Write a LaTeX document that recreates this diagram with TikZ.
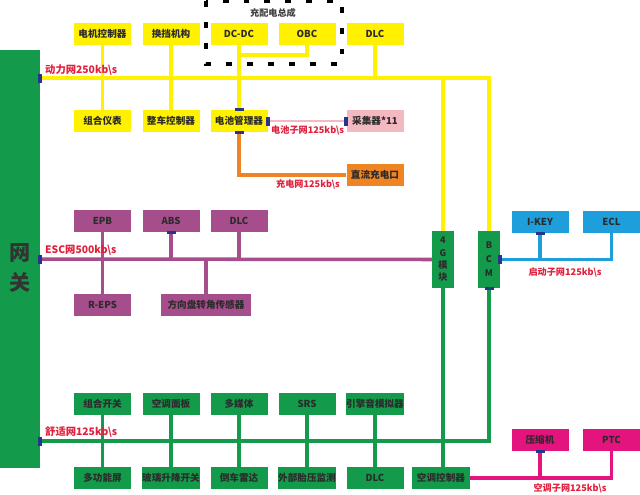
\documentclass[tikz,border=0pt]{standalone}
\usepackage{fontspec}
\setmainfont{Noto Sans CJK SC}
\definecolor{pyellow}{HTML}{FFF100}
\definecolor{escpurple}{HTML}{A64D8C}
\definecolor{gwgreen}{HTML}{139A4A}
\definecolor{keyblue}{HTML}{1E9FDB}
\definecolor{acmagenta}{HTML}{E4147F}
\definecolor{chgorange}{HTML}{EF8422}
\definecolor{cellpink}{HTML}{F4B8C1}
\definecolor{netred}{HTML}{E0203C}
\definecolor{tabnavy}{HTML}{27348B}
\definecolor{boxtext}{HTML}{2B2B2B}
\tikzset{
  box/.style={minimum width=1.71cm, minimum height=0.66cm, inner sep=0pt, text=boxtext,
    font=\bfseries\fontsize{8.2}{9}\selectfont},
  ybox/.style={box, fill=pyellow},
  pbox/.style={box, fill=escpurple},
  gbox/.style={box, fill=gwgreen},
  bbox/.style={box, fill=keyblue},
  mbox/.style={box, fill=acmagenta},
  netlabel/.style={text=netred, font=\bfseries\fontsize{8.8}{9}\selectfont, inner sep=0pt},
  sublabel/.style={netlabel, font=\bfseries\fontsize{7.8}{8}\selectfont},
  vtab/.style={fill=tabnavy, minimum width=0.12cm, minimum height=0.27cm, inner sep=0pt},
  htab/.style={fill=tabnavy, minimum width=0.27cm, minimum height=0.1cm, inner sep=0pt},
  line/.style={line width=3pt},
}
\begin{document}
\begin{tikzpicture}[x=0.03cm, y=-0.03cm]
	\useasboundingbox (0,0) rectangle (640,494);
	% gateway
	\node[fill=gwgreen, minimum width=1.2cm, minimum height=12.54cm, inner sep=0pt] (gw) at (20,259) {};
	\node[align=center, text=black!80, font=\bfseries\fontsize{18}{25}\selectfont] (gwtext) at (20,268) {网\\关};
	\coordinate (pw) at (40,78);
	\coordinate (esc) at (40,259);
	\coordinate (cf) at (40,441);
	% charging assembly
	\draw[line width=2.8pt, dash pattern=on 5pt off 12.8pt] (206,1) rectangle (342,64);
	\node[text=black!75, font=\bfseries\fontsize{7.8}{8}\selectfont] (chgtitle) at (273,13) {充配电总成};
	% modules
	\foreach \n/\x/\t in {mcu/102.5/电机控制器, gear/171/换挡机构, dcdc/239/DC-DC, obc/307/OBC, dlca/375/DLC}
		\node[ybox] (\n) at (\x,34) {\t};
	\foreach \n/\x/\t in {ipc/102.5/组合仪表, vcu/171/整车控制器, bms/239/电池管理器}
		\node[ybox] (\n) at (\x,121) {\t};
	\node[box, fill=cellpink] (cell) at (375,121) {采集器*11};
	\node[box, fill=chgorange] (dcport) at (375,175) {直流充电口};
	\foreach \n/\x/\t in {epb/102.5/EPB, abs/171/ABS, dlcb/239/DLC}
		\node[pbox] (\n) at (\x,221) {\t};
	\node[pbox] (reps) at (102.5,305) {R-EPS};
	\node[pbox, minimum width=2.7cm] (steer) at (206,305) {方向盘转角传感器};
	\node[gbox, minimum width=0.66cm, minimum height=1.71cm, align=center,
		font=\bfseries\fontsize{7.8}{10.5}\selectfont] (fourg) at (443,259.5) {4\\G\\模\\块};
	\node[gbox, minimum width=0.66cm, minimum height=1.71cm, align=center,
		font=\bfseries\fontsize{7.8}{12}\selectfont] (bcm) at (489,259.5) {B\\C\\M};
	\node[bbox] (ikey) at (540,222) {I-KEY};
	\node[bbox] (ecl) at (611.5,222) {ECL};
	\foreach \n/\x/\t in {csw/102.5/组合开关, acp/171/空调面板, media/239/多媒体, srs/307/SRS, esnd/375/引擎音模拟器}
		\node[gbox] (\n) at (\x,404) {\t};
	\foreach \n/\x/\t in {mfd/102.5/多功能屏, win/171/玻璃升降开关, prk/239/倒车雷达, tpms/307/外部胎压监测, dlcc/375/DLC}
		\node[gbox] (\n) at (\x,478) {\t};
	\node[gbox, minimum width=1.74cm] (acc) at (441,478) {空调控制器};
	\node[mbox] (comp) at (540,440) {压缩机};
	\node[mbox] (ptc) at (611.5,440) {PTC};
	% power bus
	\begin{scope}[line, draw=pyellow]
		\draw (pw) -- (pw -| bcm.north) -- (bcm.north);
		\draw (fourg.north |- pw) -- (fourg.north);
		\foreach \a/\b in {mcu/ipc, gear/vcu, dcdc/bms}
			\draw (\a.south) -- (\b.north);
		\draw (obc.south) -- ++(0,10) -| (dcdc.south);
		\draw (dlca.south) -- (dlca.south |- pw);
	\end{scope}
	\draw[line width=1.8pt, draw=cellpink] (bms.east) -- (cell.west);
	\draw[line, draw=chgorange] (bms.south) |- (dcport.west);
	% ESC bus
	\begin{scope}[line, draw=escpurple]
		\draw (esc) -- (fourg.west);
		\draw (epb.south) -- (reps.north);
		\foreach \n in {abs, dlcb}
			\draw (\n.south) -- (\n.south |- esc);
		\draw (steer.north) -- (steer.north |- esc);
	\end{scope}
	% start subnet
	\begin{scope}[line, draw=keyblue]
		\draw (bcm.east) -| (ecl.south);
		\draw (ikey.south) -- (ikey.south |- bcm.east);
	\end{scope}
	% comfort bus
	\begin{scope}[line, draw=gwgreen]
		\draw (cf) -- (cf -| bcm.south) -- (bcm.south);
		\foreach \a/\b in {csw/mfd, acp/win, media/prk, srs/tpms, esnd/dlcc}
			\draw (\a.south) -- (\b.north);
		\draw (fourg.south) -- (fourg.south |- acc.north);
	\end{scope}
	% air conditioning subnet
	\begin{scope}[line, draw=acmagenta]
		\draw (acc.east) -| (ptc.south);
		\draw (comp.south) -- (comp.south |- acc.east);
	\end{scope}
	% tabs
	\foreach \p in {pw, esc, cf, bms.east, cell.west, bcm.east}
		\node[vtab] at (\p) {};
	\foreach \p in {bms.north, bms.south, abs.south, bcm.south, ikey.south, comp.south}
		\node[htab] at (\p) {};
	% labels
	\node[netlabel, anchor=west] (pwlabel) at (45,70) {动力网250kb\textbackslash s};
	\node[sublabel, anchor=west] (celllabel) at (271,130) {电池子网125kb\textbackslash s};
	\node[sublabel] (chglabel) at (308,184) {充电网125kb\textbackslash s};
	\node[netlabel, anchor=west] (esclabel) at (45,250) {ESC网500kb\textbackslash s};
	\node[sublabel] (keylabel) at (565,272) {启动子网125kb\textbackslash s};
	\node[netlabel, anchor=west] (cflabel) at (45,432) {舒适网125kb\textbackslash s};
	\node[sublabel] (aclabel) at (570,488) {空调子网125kb\textbackslash s};
\end{tikzpicture}
\end{document}
